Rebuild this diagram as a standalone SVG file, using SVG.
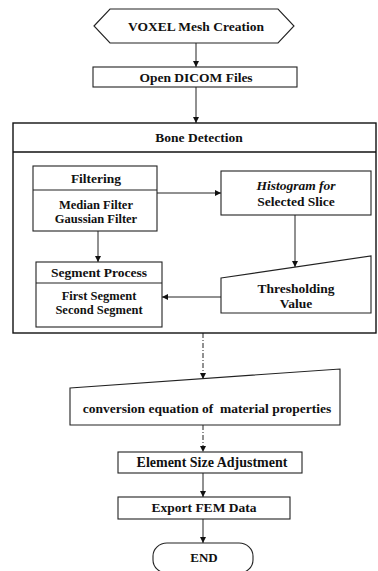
<svg xmlns="http://www.w3.org/2000/svg" width="378" height="571" viewBox="0 0 378 571">
  <defs>
    <marker id="arrow" viewBox="0 0 10 10" refX="10" refY="5" markerWidth="6" markerHeight="6" markerUnits="userSpaceOnUse" orient="auto">
      <path d="M0,0 L10,5 L0,10 Z" fill="#111"/>
    </marker>
    <style>
      .box { fill: #fff; stroke: #222; stroke-width: 1.1; }
      .frame { fill: none; stroke: #111; stroke-width: 1.4; }
      .lbl { font-family: "Liberation Serif", "Times New Roman", serif; font-weight: bold; font-size: 13.5px; fill: #111; text-anchor: middle; }
      .sm { font-size: 12.5px; }
      .it { font-style: italic; }
      .edge { fill: none; stroke: #222; stroke-width: 1; marker-end: url(#arrow); }
      .dash { stroke-dasharray: 5 2 1 2; }
    </style>
  </defs>
  <rect width="378" height="571" fill="#fff"/>

  <!-- connectors -->
  <g id="connectors">
    <line class="edge" x1="196" y1="43" x2="196" y2="67"/>
    <line class="edge" x1="196" y1="87" x2="196" y2="123"/>
    <line class="edge" x1="157" y1="193" x2="221" y2="193"/>
    <line class="edge" x1="295" y1="215" x2="295" y2="267"/>
    <line class="edge" x1="98" y1="231" x2="98" y2="262"/>
    <line class="edge" x1="221" y1="297" x2="162" y2="297"/>
    <line class="edge dash" x1="203" y1="333" x2="203" y2="379"/>
    <line class="edge dash" x1="203" y1="425" x2="203" y2="452"/>
    <line class="edge" x1="203" y1="473" x2="203" y2="497"/>
    <line class="edge" x1="203" y1="519" x2="203" y2="543"/>
  </g>

  <!-- start: preparation shape -->
  <g id="voxel">
    <polygon class="box" points="94,26 110,9 278,9 294,26 278,43 110,43"/>
    <text class="lbl" x="196" y="31">VOXEL Mesh Creation</text>
  </g>

  <g id="dicom">
    <rect class="box" x="93" y="67" width="204" height="20"/>
    <text class="lbl" x="196" y="82">Open DICOM Files</text>
  </g>

  <!-- bone detection container -->
  <g id="bone">
    <rect class="frame" x="13" y="123" width="363" height="210"/>
    <line class="frame" x1="13" y1="152" x2="376" y2="152"/>
    <text class="lbl" x="199" y="142">Bone Detection</text>
  </g>

  <g id="filtering">
    <rect class="box" x="33" y="166" width="124" height="65"/>
    <line class="box" x1="33" y1="190" x2="157" y2="190"/>
    <text class="lbl" x="96" y="183">Filtering</text>
    <text class="lbl sm" x="96" y="209">Median Filter</text>
    <text class="lbl sm" x="96" y="223">Gaussian Filter</text>
  </g>

  <g id="histogram">
    <rect class="box" x="221" y="171" width="150" height="44"/>
    <text class="lbl it" x="296" y="190">Histogram for</text>
    <text class="lbl" x="296" y="206">Selected Slice</text>
  </g>

  <g id="threshold">
    <polygon class="box" points="221,278 371,256 371,313 221,313"/>
    <text class="lbl" x="296" y="293">Thresholding</text>
    <text class="lbl" x="296" y="308">Value</text>
  </g>

  <g id="segment">
    <rect class="box" x="36" y="262" width="126" height="65"/>
    <line class="box" x1="36" y1="283" x2="162" y2="283"/>
    <text class="lbl" x="99" y="277">Segment Process</text>
    <text class="lbl sm" x="99" y="300">First Segment</text>
    <text class="lbl sm" x="99" y="314">Second Segment</text>
  </g>

  <g id="conversion">
    <polygon class="box" points="70,388 340,369 340,425 70,425"/>
    <text class="lbl" x="207" y="413" xml:space="preserve">conversion equation of  material properties</text>
  </g>

  <g id="element">
    <rect class="box" x="118" y="452" width="184" height="21"/>
    <text class="lbl" x="212" y="467" style="font-size:14px">Element Size Adjustment</text>
  </g>

  <g id="export">
    <rect class="box" x="118" y="497" width="172" height="22"/>
    <text class="lbl" x="204" y="512">Export FEM Data</text>
  </g>

  <g id="end">
    <rect class="box" x="153" y="543" width="100" height="30" rx="14" ry="13"/>
    <text class="lbl" x="204" y="562" style="font-size:13px">END</text>
  </g>
</svg>
